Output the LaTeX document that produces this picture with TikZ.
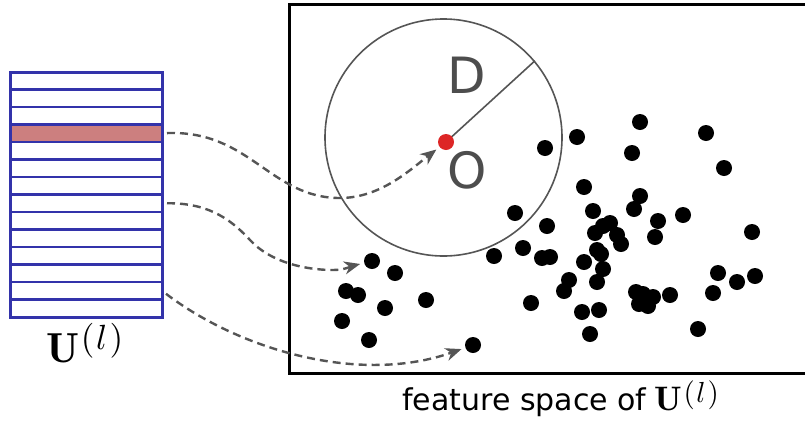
\documentclass[tikz,border=0pt]{standalone}
\usepackage{fontspec}
\usepackage{graphicx}
\newfontfamily\dejavu{DejaVu Sans}
\usetikzlibrary{arrows.meta}
\definecolor{ublue}{HTML}{3333AA}
\definecolor{urow}{HTML}{CC7F7F}
\definecolor{ugray}{HTML}{555555}
\definecolor{ured}{HTML}{DD2626}
\definecolor{ulabel}{HTML}{4D4D4D}
% U^(l): x and y scale of U, scale of the superscript, its raise
\newcommand{\Ul}[4]{\scalebox{#1}[#2]{$\mathbf{U}$}%
  \kern1.5pt\raisebox{#4}{\scalebox{#3}{$(\kern0.5pt l\kern0.7pt)$}}}
\begin{document}
\begin{tikzpicture}[x=1pt,y=-1pt,
  rowbox/.style={draw=ublue,line width=2.4pt,minimum width=152pt,minimum height=17.5pt,inner sep=0pt,outer sep=0pt},
  pt/.style={circle,fill=black,inner sep=0pt,minimum size=16pt},
  centre/.style={circle,fill=ured,inner sep=0pt,minimum size=16pt},
  link/.style={draw=ugray,line width=2.4pt,dash pattern=on 8pt off 5pt,
    -{Stealth[length=16pt,width=13pt,inset=5pt]},shorten <=5pt,shorten >=4pt},
  letter/.style={text=ulabel,font=\dejavu\fontsize{50}{50}\selectfont,inner sep=0pt}
]
\useasboundingbox (0,0) rectangle (805,421);

% matrix U^(l): one highlighted row
\fill[urow] (10,124.5) rectangle (162,142);
\foreach \i in {1,...,14}
  \node[rowbox] (r\i) at (86,{72+17.5*(\i-0.5)}) {};
\node[draw=ublue,line width=3pt,minimum width=152pt,minimum height=245pt,inner sep=0pt] (mat) at (86,194.5) {};
\node[anchor=base west,inner sep=0pt] (ulab) at (46,362) {\Ul{4.3}{4.2}{3.5}{13pt}};

% feature space panel (open on the right)
\draw[line width=3pt] (810,4) -- (289.5,4) -- (289.5,373) -- (810,373);

% ball of radius D around O
\node[draw=ugray,line width=1.6pt,circle,minimum size=237pt,inner sep=0pt] (ball) at (443.5,137.5) {};
\coordinate (oc) at (446,142);
\draw[ugray,line width=1.6pt] (oc) -- (ball.40);
\node[centre] (ctr) at (oc) {};
\node[letter] (lD) at (467,75) {D};
\node[letter] (lO) at (467,170) {O};

% feature points
\foreach \x/\y [count=\n] in {640/122,706/133,577/137,545/148,632/153,724/168,584/187,640/196,
  593/211,634/209,683/215,515/213,547/226,610/223,603/226,595/233,617/235,621/244,658/221,
  655/237,752/232,523/248,597/250,601/254,542/258,550/257,584/262,603/269,569/280,597/282,
  564/291,718/273,737/282,755/276,713/293,636/292,643/294,653/297,639/304,648/306,670/295,
  531/303,582/312,599/310,590/334,698/329,494/256,395/273,346/291,358/295,385/308,426/300,
  342/321,369/340}
  \node[pt] (p\n) at (\x,\y) {};
\node[pt] (ta) at (372,261) {};
\node[pt] (tb) at (473,345) {};

\node[anchor=base west,inner sep=0pt] (cap) at (402,410)
  {{\dejavu\fontsize{30}{34}\selectfont feature space of}\hspace{8pt}\Ul{3.6}{3.4}{2.9}{8pt}};

% rows mapped into the feature space
\draw[link] (r4.east) .. controls (250,130) and (270,198) .. (340,198)
  .. controls (380,198) and (410,170) .. (ctr);
\draw[link] (r8.east) .. controls (205,203) and (228,216) .. (250,240)
  .. controls (270,262) and (305,270) .. (333,270)
  .. controls (345,270) and (352,266) .. (ta);
\draw[link] (r13.east) .. controls (240,350) and (360,385) .. (tb);
\end{tikzpicture}
\end{document}
